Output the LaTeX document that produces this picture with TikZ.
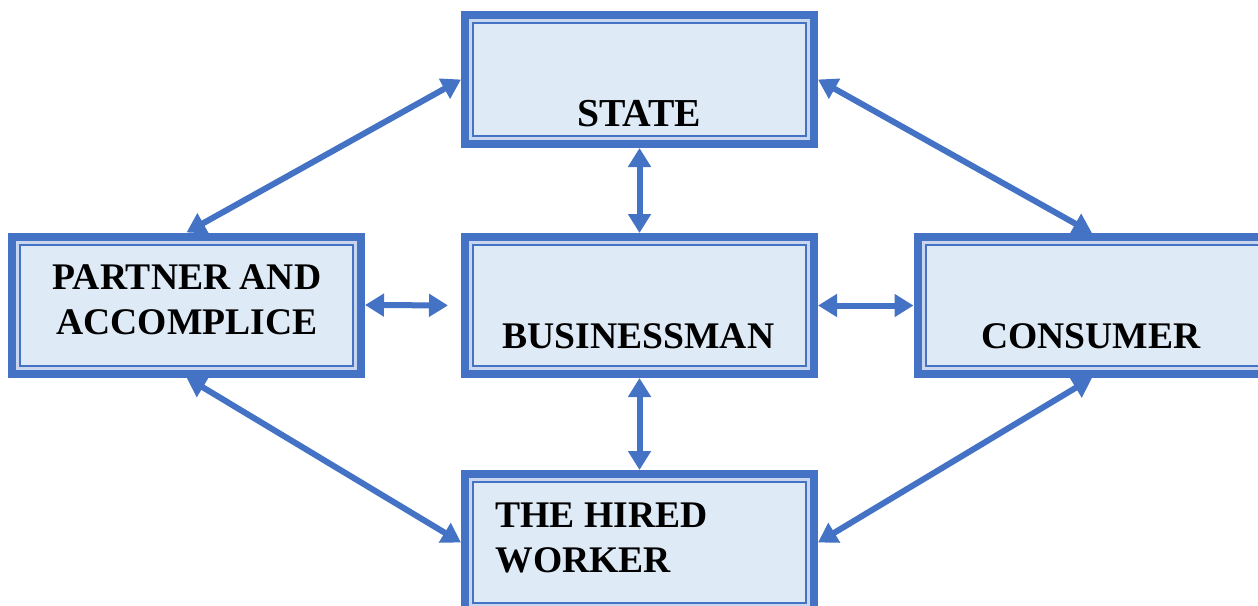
\documentclass[tikz,border=0pt]{standalone}
\usepackage{fontspec}
\setmainfont{Liberation Serif}
\usetikzlibrary{arrows.meta}

\definecolor{boxblue}{HTML}{4472C4}
\definecolor{boxlight}{HTML}{C9D6EE}
\definecolor{boxfill}{HTML}{DEEAF6}

\begin{document}
\begin{tikzpicture}[
    x=0.5pt, y=-0.5pt,
    rolebox/.style = {
      draw=boxblue, double=boxlight, line width=1pt, double distance=1.5pt,
      fill=boxfill, preaction={draw=boxblue, line width=9.5pt},
      minimum width=169pt, minimum height=63pt, outer sep=4.75pt,
      shape=rectangle, sharp corners
    },
    roletext/.style = {
      inner sep=0pt, font=\fontsize{18.8}{22.5}\selectfont\bfseries
    },
    link/.style = {
      draw=boxblue, line width=3pt,
      {Triangle[length=9.5pt,width=11pt]}-{Triangle[length=9.5pt,width=11pt]}
    }
  ]
    \useasboundingbox (0,0) rectangle (1258,605);
    \clip (0,0) rectangle (1258,605);

    % Boxes
    \node[rolebox, minimum height=59pt] (state) at (639.5,79.5) {};
    \node[rolebox] (business) at (639.5,305.5) {};
    \node[rolebox] (partner) at (186.5,305) {};
    \node[rolebox] (consumer) at (1092,305.5) {};
    \node[rolebox] (worker) at (639.5,542.5) {};

    % Texts
    \node[roletext, anchor=base, font=\fontsize{19.8}{22.5}\selectfont\bfseries] (statetxt) at (639,126) {STATE};
    \node[roletext, anchor=base] (businesstxt) at (638.5,348) {BUSINESSMAN};
    \node[roletext, anchor=base] (consumertxt) at (1091,348) {CONSUMER};
    \node[roletext, align=center] (partnertxt) at (187,300) {PARTNER AND \\ ACCOMPLICE};
    \node[roletext, align=left, anchor=north west] (workertxt) at (495,502) {THE HIRED \\ WORKER};

    % Links to the state
    \draw[link] (state.west) -- (partner.north);
    \draw[link] (state.east) -- (consumer.north);
    \draw[link] (state.south) -- (business.north);

    % Links of the businessman
    \draw[link, shorten >=6.5pt] (partner.east) -- (business.west);
    \draw[link] (business.east) -- (consumer.west);
    \draw[link] (business.south) -- (worker.north);

    % Links to the hired worker
    \draw[link] (partner.south) -- (worker.west);
    \draw[link] (consumer.south) -- (worker.east);
  \end{tikzpicture}
\end{document}
